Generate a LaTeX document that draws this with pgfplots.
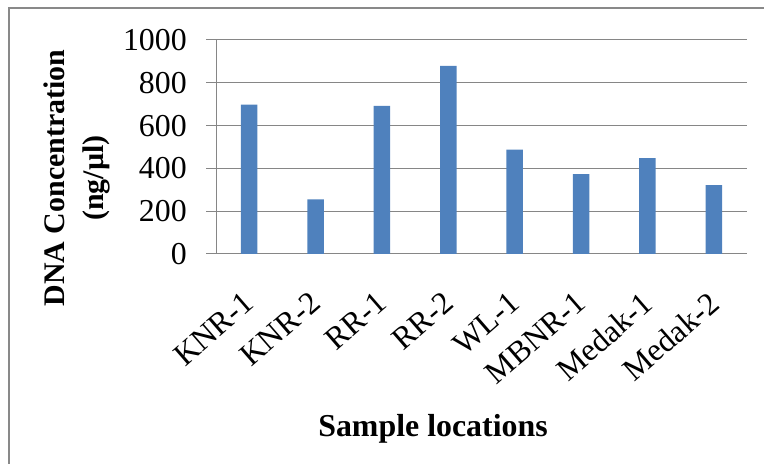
\documentclass[border=0pt]{standalone}
\usepackage{fontspec}
\setmainfont{Liberation Serif}
\usepackage{pgfplots}
\pgfplotsset{compat=1.18}
\definecolor{barblue}{RGB}{79,129,189}
\definecolor{gridgray}{RGB}{134,134,134}
\definecolor{framegray}{RGB}{137,137,137}
\begin{document}
\begin{tikzpicture}[x=1bp,y=1bp]
\useasboundingbox (0,0) rectangle (764,464);
% chart frame (only top and left edges are inside the picture)
\draw[framegray, line width=1.5bp] (9,-5) -- (9,456) -- (770,456);
\begin{axis}[
    at={(216bp,210bp)}, anchor=south west,
    scale only axis, width=531bp, height=214bp,
    xmin=-0.5, xmax=7.5, ymin=0, ymax=1000,
    ybar, bar width=16.5bp,
    axis x line*=bottom, axis y line*=left,
    axis line style={gridgray, line width=1bp, -},
    xtick={0,...,7},
    xticklabels={KNR-1,KNR-2,RR-1,RR-2,WL-1,MBNR-1,Medak-1,Medak-2},
    ytick={0,200,...,1000},
    ymajorgrids, grid style={gridgray, line width=1bp},
    tick align=outside, major tick length=10bp,
    y tick style={gridgray, line width=1bp},
    x tick style={draw=none},
    tick label style={font=\fontsize{32}{32}\selectfont},
    /pgf/number format/assume math mode=true,
    /pgf/number format/1000 sep={},
    yticklabel style={anchor=east, inner sep=0pt, xshift=-19bp},
    xticklabel style={xshift=-7bp, yshift=-26bp, rotate=41, anchor=north east, inner sep=0pt},
]
\addplot[fill=barblue, draw=none] coordinates {
    (0,698) (1,255) (2,692) (3,879) (4,488) (5,373) (6,448) (7,322)
};
\end{axis}
\node[rotate=90, align=center, font=\bfseries\fontsize{30}{40}\selectfont] at (77,286) {DNA Concentration\\(ng/µl)};
\node[anchor=base, font=\bfseries\fontsize{32}{32}\selectfont] at (433,27) {Sample locations};
\end{tikzpicture}
\end{document}
